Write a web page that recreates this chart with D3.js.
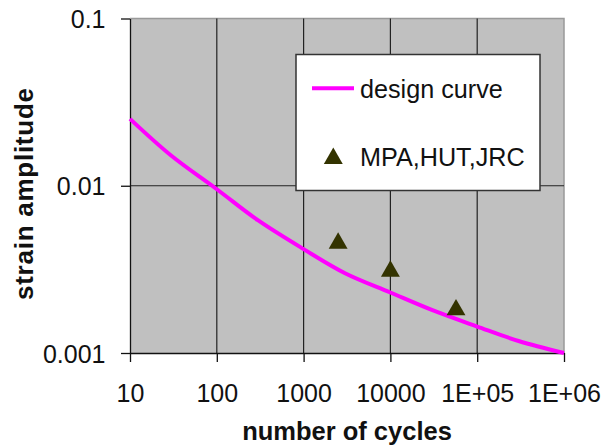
<!DOCTYPE html>
<html>
<head>
<meta charset="utf-8">
<script src="https://cdn.jsdelivr.net/npm/d3@7"></script>
<style>
  body { margin: 0; background: #fff; }
  svg { font-family: "Liberation Sans", Arial, sans-serif; }
</style>
</head>
<body>
<script>
// design curve
var curveCycles = [10, 30, 100, 300, 1000, 3000, 10000, 30000, 100000, 300000, 1000000];
var curveStrain = [0.0251, 0.0151, 0.00953, 0.0062, 0.00418, 0.0030, 0.0023, 0.00181, 0.00144, 0.00118, 0.001];

// test points
var testCycles = [2500, 10000, 57000];
var testStrain = [0.00453, 0.00308, 0.00181];

var xTicks = [10, 100, 1000, 10000, 100000, 1000000];
var xTickLabels = ["10", "100", "1000", "10000", "1E+05", "1E+06"];
var yTicks = [0.001, 0.01, 0.1];
var yTickLabels = ["0.001", "0.01", "0.1"];

var width = 603, height = 446;
var plot = { left: 130, right: 564, top: 18.5, bottom: 353 };

var svg = d3.select("body").append("svg")
    .attr("width", width)
    .attr("height", height);

var x = d3.scaleLog().domain([10, 1000000]).range([plot.left, plot.right]);
var y = d3.scaleLog().domain([0.001, 0.1]).range([plot.bottom, plot.top]);

// plot area
svg.append("rect")
    .attr("x", plot.left)
    .attr("y", plot.top)
    .attr("width", plot.right - plot.left)
    .attr("height", plot.bottom - plot.top)
    .attr("fill", "#c0c0c0")
    .attr("stroke", "none");

// top / right border
svg.append("path")
    .attr("d", "M" + plot.left + "," + plot.top + "H" + plot.right + "V" + plot.bottom)
    .attr("fill", "none")
    .attr("stroke", "#999")
    .attr("stroke-width", 1.5);

// gridlines
svg.append("g").selectAll("line")
    .data(xTicks.slice(1, -1))
  .enter().append("line")
    .attr("x1", function (d) { return x(d); })
    .attr("x2", function (d) { return x(d); })
    .attr("y1", plot.top)
    .attr("y2", plot.bottom)
    .attr("stroke", "#222")
    .attr("stroke-width", 1.2);

svg.append("g").selectAll("line")
    .data(yTicks.slice(1, -1))
  .enter().append("line")
    .attr("x1", plot.left)
    .attr("x2", plot.right)
    .attr("y1", function (d) { return y(d); })
    .attr("y2", function (d) { return y(d); })
    .attr("stroke", "#222")
    .attr("stroke-width", 1.2);

// axes
var xAxis = d3.axisBottom(x)
    .tickValues(xTicks)
    .tickFormat(function (d, i) { return xTickLabels[i]; })
    .tickSize(9)
    .tickSizeOuter(0);

var yAxis = d3.axisLeft(y)
    .tickValues(yTicks)
    .tickFormat(function (d, i) { return yTickLabels[i]; })
    .tickSize(9)
    .tickSizeOuter(0);

var gX = svg.append("g")
    .attr("transform", "translate(0," + plot.bottom + ")")
    .call(xAxis);
gX.selectAll("text")
    .attr("y", 48.5)
    .attr("dy", null)
    .attr("fill", "#111")
    .style("font-size", "25px");

var gY = svg.append("g")
    .attr("transform", "translate(" + plot.left + ",0)")
    .call(yAxis);
gY.selectAll("text")
    .attr("x", -24.5)
    .attr("dy", "0.36em")
    .attr("fill", "#111")
    .style("font-size", "25px");

svg.selectAll(".domain, .tick line")
    .attr("stroke", "#111")
    .attr("stroke-width", 1.3);

// design curve
var line = d3.line()
    .x(function (d) { return x(d[0]); })
    .y(function (d) { return y(d[1]); })
    .curve(d3.curveCatmullRom.alpha(0.5));

svg.append("path")
    .datum(d3.zip(curveCycles, curveStrain))
    .attr("d", line)
    .attr("fill", "none")
    .attr("stroke", "#ff00ff")
    .attr("stroke-width", 4);

// triangles
var tri = d3.symbol().type(d3.symbolTriangle).size(155);

svg.append("g").selectAll("path")
    .data(d3.zip(testCycles, testStrain))
  .enter().append("path")
    .attr("d", tri)
    .attr("transform", function (d) { return "translate(" + x(d[0]) + "," + y(d[1]) + ")"; })
    .attr("fill", "#333300");

// legend
var legend = svg.append("g");
legend.append("rect")
    .attr("x", 296)
    .attr("y", 54.5)
    .attr("width", 244)
    .attr("height", 136)
    .attr("fill", "#fff")
    .attr("stroke", "#333")
    .attr("stroke-width", 1.5);

legend.append("line")
    .attr("x1", 312).attr("x2", 354)
    .attr("y1", 88.3).attr("y2", 88.3)
    .attr("stroke", "#ff00ff")
    .attr("stroke-width", 4);

legend.append("text")
    .attr("x", 360).attr("y", 98.3)
    .attr("fill", "#111")
    .style("font-size", "25.2px")
    .text("design curve");

legend.append("path")
    .attr("d", tri)
    .attr("transform", "translate(333.3,158.5)")
    .attr("fill", "#333300");

legend.append("text")
    .attr("x", 360).attr("y", 166)
    .attr("fill", "#111")
    .style("font-size", "25.2px")
    .text("MPA,HUT,JRC");

// axis titles
svg.append("text")
    .attr("x", 347)
    .attr("y", 440)
    .attr("text-anchor", "middle")
    .attr("fill", "#111")
    .style("font-size", "25.5px")
    .style("font-weight", "bold")
    .text("number of cycles");

svg.append("text")
    .attr("transform", "translate(33,194) rotate(-90)")
    .attr("text-anchor", "middle")
    .attr("fill", "#111")
    .style("font-size", "26px")
    .style("font-weight", "bold")
    .attr("textLength", 212)
    .attr("lengthAdjust", "spacing")
    .text("strain amplitude");
</script>
</body>
</html>
